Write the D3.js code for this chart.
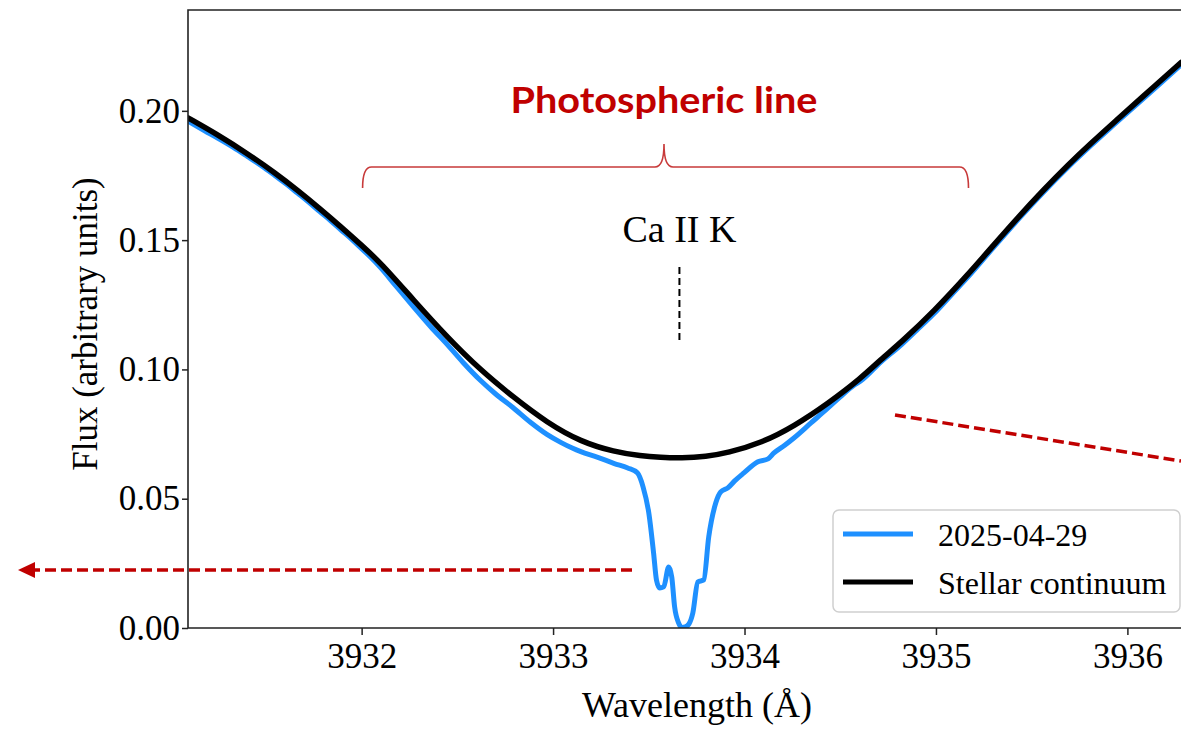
<!DOCTYPE html>
<html>
<head>
<meta charset="utf-8">
<script src="https://cdn.jsdelivr.net/npm/d3@7"></script>
<style>
  html, body { margin: 0; padding: 0; background: #fff; }
  svg { display: block; }
</style>
</head>
<body>
<svg id="chart" width="1181" height="730"></svg>
<script>
// ---------------- data ----------------
const continuumWavelength = [3931.093, 3931.25, 3931.403, 3931.55, 3931.665, 3931.78, 3931.89, 3932.00, 3932.10,
  3932.27, 3932.45, 3932.62, 3932.79, 3932.97, 3933.145, 3933.32, 3933.46, 3933.56, 3933.67, 3933.80, 3933.91,
  3934.09, 3934.26, 3934.44, 3934.61, 3934.71, 3934.82, 3934.99, 3935.17, 3935.30, 3935.43, 3935.56, 3935.69,
  3935.81, 3935.94, 3936.07, 3936.28];
const continuumFlux = [0.1973, 0.1907, 0.1835, 0.1759, 0.1693, 0.1623, 0.1553, 0.1480, 0.1412,
  0.1269, 0.1122, 0.0998, 0.0894, 0.0793, 0.0720, 0.0681, 0.0665, 0.0660, 0.0657, 0.0663, 0.0677,
  0.0716, 0.0781, 0.0870, 0.0967, 0.1037, 0.1106, 0.1225, 0.1369, 0.1480, 0.1589, 0.1693, 0.1791,
  0.1875, 0.1962, 0.2048, 0.2187];

const observedWavelength = [3931.093, 3931.18, 3931.25, 3931.33, 3931.403, 3931.48, 3931.55, 3931.61, 3931.665,
  3931.72, 3931.78, 3931.84, 3931.89, 3931.95, 3932.00, 3932.05, 3932.10, 3932.18, 3932.27, 3932.36, 3932.45,
  3932.53, 3932.62, 3932.70, 3932.79, 3932.88, 3932.97, 3933.04, 3933.10, 3933.145, 3933.23, 3933.32, 3933.39,
  3933.44, 3933.47, 3933.50, 3933.525, 3933.54, 3933.557, 3933.578, 3933.604, 3933.62, 3933.635, 3933.656,
  3933.672, 3933.69, 3933.71, 3933.73, 3933.756, 3933.787, 3933.813, 3933.85, 3933.876, 3933.913, 3933.95,
  3933.997, 3934.07, 3934.123, 3934.154, 3934.21, 3934.258, 3934.347, 3934.436, 3934.50, 3934.57, 3934.61,
  3934.71, 3934.82, 3934.90, 3934.99, 3935.08, 3935.17, 3935.30, 3935.43, 3935.56, 3935.69, 3935.81, 3935.94,
  3936.07, 3936.18, 3936.28];
const observedFlux = [0.1960, 0.1923, 0.1894, 0.1859, 0.1824, 0.1786, 0.1748, 0.1715, 0.1682,
  0.1649, 0.1611, 0.1574, 0.1541, 0.1502, 0.1467, 0.1432, 0.1393, 0.1322, 0.1243, 0.1166, 0.1094,
  0.1027, 0.0958, 0.0905, 0.0853, 0.0797, 0.0748, 0.0718, 0.0696, 0.0682, 0.0661, 0.0636, 0.0619,
  0.0600, 0.0546, 0.0445, 0.0290, 0.0186, 0.0155, 0.0159, 0.0236, 0.0197, 0.0081, 0.0019,
  0.0002, 0.0004, 0.0016, 0.0058, 0.0178, 0.0186, 0.0352, 0.0484, 0.0526, 0.0542, 0.0570,
  0.0600, 0.0643, 0.0654, 0.0677, 0.0707, 0.0735, 0.0793, 0.0851, 0.0894, 0.0938, 0.0957,
  0.1027, 0.1096, 0.1152, 0.1216, 0.1288, 0.1360, 0.1471, 0.1580, 0.1684, 0.1782, 0.1866, 0.1953,
  0.2039, 0.2111, 0.2178];

const xTicks = [3932, 3933, 3934, 3935, 3936];
const yTicks = [0.00, 0.05, 0.10, 0.15, 0.20];
const xDomain = [3931.093, 3936.28];
const yDomain = [0, 0.239];
const seriesNames = ["2025-04-29", "Stellar continuum"];
const lineCenter = 3933.66;   // Ca II K marker
const bracketRange = [3932.005, 3935.17];

// ---------------- layout ----------------
const svg = d3.select("#chart");
const L = 188, R = 1181, T = 10, B = 628;
const x = d3.scaleLinear().domain(xDomain).range([L, R]);
const y = d3.scaleLinear().domain(yDomain).range([B, T]);

const serif = "'Liberation Serif', 'Times New Roman', serif";
const blue = "#1E90FF";
const red = "#C00000";

svg.append("defs").append("clipPath").attr("id", "plotclip")
  .append("rect").attr("x", L).attr("y", T).attr("width", R - L).attr("height", B - T);

const obs = observedWavelength.map((w, i) => [w, observedFlux[i]]);
const cont = continuumWavelength.map((w, i) => [w, continuumFlux[i]]);
const obsLine = d3.line().x(d => x(d[0])).y(d => y(d[1])).curve(d3.curveMonotoneX);
const contLine = d3.line().x(d => x(d[0])).y(d => y(d[1])).curve(d3.curveBasis);

const plot = svg.append("g").attr("clip-path", "url(#plotclip)");
plot.append("path").datum(obs).attr("d", obsLine)
  .attr("fill", "none").attr("stroke", blue).attr("stroke-width", 5)
  .attr("stroke-linejoin", "round").attr("stroke-linecap", "round");
plot.append("path").datum(cont).attr("d", contLine)
  .attr("fill", "none").attr("stroke", "#000").attr("stroke-width", 5.5)
  .attr("stroke-linejoin", "round").attr("stroke-linecap", "round");

// ---------------- axes ----------------
const xAxis = d3.axisBottom(x).tickValues(xTicks).tickFormat(d3.format("d"))
  .tickSize(7).tickPadding(8).tickSizeOuter(0);
const yAxis = d3.axisLeft(y).tickValues(yTicks).tickFormat(d3.format(".2f"))
  .tickSize(6).tickPadding(2).tickSizeOuter(0);

const gx = svg.append("g").attr("transform", `translate(0,${B})`).call(xAxis);
const gy = svg.append("g").attr("transform", `translate(${L},0)`).call(yAxis);
[gx, gy].forEach(g => {
  g.select(".domain").remove();
  g.selectAll(".tick line").attr("stroke", "#222").attr("stroke-width", 1.5);
  g.selectAll(".tick text").attr("fill", "#000").style("font-family", serif).style("font-size", "35px");
});

// spines (left, top, bottom; right side is cut off in the reference)
svg.append("path")
  .attr("d", `M${R},${T} L${L},${T} L${L},${B} L${R},${B}`)
  .attr("fill", "none").attr("stroke", "#222").attr("stroke-width", 1.6);

// axis labels
svg.append("text").attr("x", 697).attr("y", 717).attr("text-anchor", "middle")
  .style("font-family", serif).style("font-size", "36px").text("Wavelength (Å)");
svg.append("text").attr("transform", "translate(97,324) rotate(-90)").attr("text-anchor", "middle")
  .style("font-family", serif).style("font-size", "35px").text("Flux (arbitrary units)");

// ---------------- legend ----------------
const lg = svg.append("g");
lg.append("rect").attr("x", 833).attr("y", 510).attr("width", 347).attr("height", 102).attr("rx", 6)
  .attr("fill", "#fff").attr("fill-opacity", 0.85).attr("stroke", "#cfcfcf").attr("stroke-width", 1.5);
[[blue, 534, seriesNames[0]], ["#000", 582, seriesNames[1]]].forEach(([c, yy, label]) => {
  lg.append("line").attr("x1", 843).attr("x2", 913).attr("y1", yy).attr("y2", yy)
    .attr("stroke", c).attr("stroke-width", 5);
  lg.append("text").attr("x", 938).attr("y", yy + 12)
    .style("font-family", serif).style("font-size", "32px").text(label);
});

// ---------------- annotations ----------------
const cx = x(lineCenter);
svg.append("text").attr("x", cx).attr("y", 242).attr("text-anchor", "middle")
  .style("font-family", serif).style("font-size", "38px").text("Ca II K");
svg.append("line").attr("x1", cx).attr("x2", cx).attr("y1", 267).attr("y2", 344)
  .attr("stroke", "#000").attr("stroke-width", 2).attr("stroke-dasharray", "7,4");

svg.append("text").attr("x", 664).attr("y", 113).attr("text-anchor", "middle")
  .attr("textLength", 307).attr("lengthAdjust", "spacingAndGlyphs")
  .style("font-family", "Lato, 'Noto Sans', sans-serif").style("font-weight", 700)
  .style("font-size", "36px").attr("fill", red).text("Photospheric line");

const bx0 = x(bracketRange[0]), bx1 = x(bracketRange[1]), bt = 664;
svg.append("path")
  .attr("d", `M${bx0},188 Q${bx0},167 ${bx0 + 9},167 L${bt - 9},167 Q${bt},167 ${bt},144 ` +
             `Q${bt},167 ${bt + 9},167 L${bx1 - 9},167 Q${bx1},167 ${bx1},188`)
  .attr("fill", "none").attr("stroke", "#C83a3a").attr("stroke-width", 1.6);

// dashed arrow to the left
svg.append("line").attr("x1", 632).attr("x2", 32).attr("y1", 570).attr("y2", 570)
  .attr("stroke", red).attr("stroke-width", 3.5).attr("stroke-dasharray", "11,5");
svg.append("path").attr("d", "M18,570 L35,562 L35,578 Z").attr("fill", red);

// dashed line on the right
svg.append("line").attr("x1", 895).attr("y1", 415).attr("x2", 1181).attr("y2", 461)
  .attr("stroke", red).attr("stroke-width", 3.5).attr("stroke-dasharray", "11,5");
</script>
</body>
</html>
